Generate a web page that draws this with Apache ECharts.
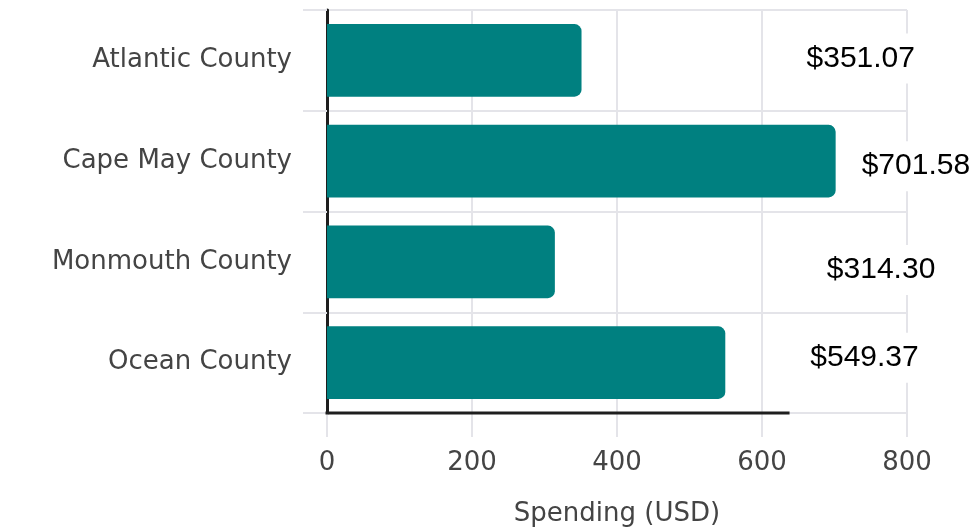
<!DOCTYPE html>
<html>
<head>
<meta charset="utf-8">
<script src="https://cdn.jsdelivr.net/npm/echarts@6/dist/echarts.min.js"></script>
<style>
  html, body { margin: 0; padding: 0; background: #fff; }
  #chart { width: 979px; height: 527px; }
</style>
</head>
<body>
<div id="chart"></div>
<script>
var categories = ['Atlantic County', 'Cape May County', 'Monmouth County', 'Ocean County'];
var spending = [351.07, 701.58, 314.30, 549.37];
var axisMax = 800;
var axisStep = 200;
var axisLineEnd = 638;

var barColor = '#008080';
var gridColor = '#e4e4e9';
var textGray = '#444';

var chart = echarts.init(document.getElementById('chart'));

// labels sit off to the right of each bar, not at its end
var labelShift = [[221, -2], [22, 5], [268, 8], [81, -5]];

var barData = spending.map(function (v, i) {
  return {
    value: v,
    label: { offset: labelShift[i] }
  };
});

var option = {
  animation: false,
  grid: {
    left: 327,
    right: 72,
    top: 10,
    bottom: 114,
    outerBoundsMode: 'none',
    containLabel: false
  },
  xAxis: {
    type: 'value',
    min: 0,
    max: axisMax,
    interval: axisStep,
    name: 'Spending (USD)',
    nameLocation: 'middle',
    nameGap: 88,
    nameTextStyle: {
      fontFamily: 'DejaVu Sans',
      fontSize: 26,
      color: textGray
    },
    axisLine: { show: false },
    axisTick: {
      show: true,
      length: 24,
      lineStyle: { color: gridColor, width: 2 }
    },
    axisLabel: {
      margin: 37,
      fontFamily: 'DejaVu Sans',
      fontSize: 26,
      color: textGray
    },
    splitLine: {
      show: true,
      lineStyle: { color: gridColor, width: 2 }
    }
  },
  yAxis: {
    type: 'category',
    inverse: true,
    data: categories,
    axisLine: {
      show: true,
      lineStyle: { color: '#1e1e1e', width: 3 }
    },
    axisTick: {
      show: true,
      length: 24,
      lineStyle: { color: gridColor, width: 2 }
    },
    axisLabel: {
      margin: 35,
      fontFamily: 'DejaVu Sans',
      fontSize: 26,
      color: textGray
    },
    splitLine: {
      show: true,
      lineStyle: { color: gridColor, width: 2 }
    }
  },
  series: [{
    type: 'bar',
    data: barData,
    barCategoryGap: '28%',
    itemStyle: {
      color: barColor,
      borderRadius: [0, 7, 7, 0]
    },
    label: {
      show: true,
      position: 'right',
      distance: 0,
      fontFamily: 'Liberation Sans',
      fontSize: 30,
      color: '#000',
      backgroundColor: '#fff',
      padding: [10, 4],
      formatter: function (p) {
        return '$' + p.value.toFixed(2);
      }
    }
  }]
};

chart.setOption(option);

// bottom axis line only runs part of the way across
var x0 = chart.convertToPixel({ xAxisIndex: 0 }, 0);
var x1 = chart.convertToPixel({ xAxisIndex: 0 }, axisLineEnd);
var yBottom = 527 - option.grid.bottom;
chart.setOption({
  graphic: [{
    type: 'line',
    shape: { x1: x0 - 1.5, y1: yBottom, x2: x1, y2: yBottom },
    style: { stroke: '#1e1e1e', lineWidth: 3 },
    z: 10
  }]
});
</script>
</body>
</html>
